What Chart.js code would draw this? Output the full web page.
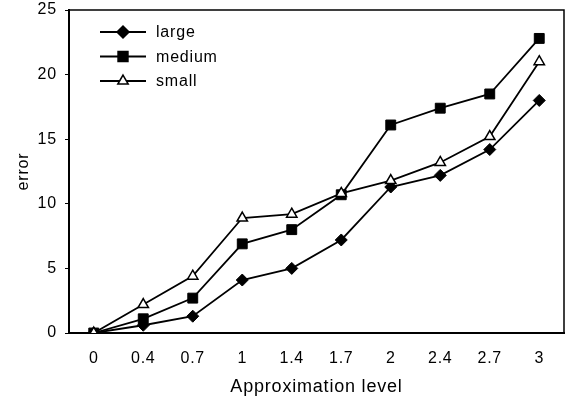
<!DOCTYPE html>
<html>
<head>
<meta charset="utf-8">
<style>
  html, body { margin: 0; padding: 0; background: #fff; }
  #wrap { position: relative; width: 572px; height: 403px; }
</style>
</head>
<body>
<div id="wrap">
  <canvas id="myChart"></canvas>
</div>

<script src="https://cdn.jsdelivr.net/npm/chart.js"></script>

<script>
const levels = ["0", "0.4", "0.7", "1", "1.4", "1.7", "2", "2.4", "2.7", "3"];
const large  = [0, 0.6, 1.3, 4.1, 5.0, 7.2, 11.3, 12.2, 14.2, 18.0];
const medium = [0, 1.1, 2.7, 6.9, 8.0, 10.7, 16.1, 17.4, 18.5, 22.8];
const small  = [0, 2.2, 4.4, 8.9, 9.2, 10.8, 11.8, 13.2, 15.2, 21.0];
const yTicks = [0, 5, 10, 15, 20, 25];

const FONT = "'Liberation Sans', Arial, sans-serif";
const SPACING = "0.8px";

// wider letter spacing on every text the chart draws
const spacing = {
  id: 'spacing',
  beforeUpdate(chart) { chart.ctx.letterSpacing = SPACING; },
  beforeLayout(chart) { chart.ctx.letterSpacing = SPACING; },
  beforeDraw(chart) { chart.ctx.letterSpacing = SPACING; }
};

// top and right edges of the plot box
const frame = {
  id: 'frame',
  afterDraw(chart) {
    const {ctx, chartArea: a} = chart;
    ctx.save();
    ctx.strokeStyle = '#000';
    ctx.lineWidth = 1.5;
    ctx.beginPath();
    ctx.moveTo(a.left, a.top);
    ctx.lineTo(a.right, a.top);
    ctx.lineTo(a.right, a.bottom);
    ctx.stroke();
    ctx.restore();
  }
};

// legend inside the plot, line with marker then name
const innerLegend = {
  id: 'innerLegend',
  afterDraw(chart) {
    const ctx = chart.ctx;
    const x0 = 100, x1 = 146, tx = 156;
    let y = 32;
    ctx.save();
    ctx.letterSpacing = SPACING;
    ctx.font = '16px ' + FONT;
    ctx.textBaseline = 'middle';
    ctx.textAlign = 'left';
    chart.data.datasets.forEach(ds => {
      ctx.strokeStyle = '#000';
      ctx.lineWidth = 2;
      ctx.beginPath();
      ctx.moveTo(x0, y);
      ctx.lineTo(x1, y);
      ctx.stroke();
      ctx.fillStyle = ds.pointBackgroundColor;
      ctx.strokeStyle = '#000';
      ctx.lineWidth = 1.5;
      Chart.helpers.drawPoint(ctx, {
        pointStyle: ds.pointStyle, radius: ds.pointRadius, rotation: 0, borderWidth: 1.5
      }, (x0 + x1) / 2, y);
      ctx.fillStyle = '#000';
      ctx.fillText(ds.label, tx, y + 1);
      y += 24.5;
    });
    ctx.restore();
  }
};

const ctx = document.getElementById('myChart');
new Chart(ctx, {
  type: 'line',
  data: {
    labels: levels,
    datasets: [
      {
        label: 'large', data: large, order: 2,
        borderColor: '#000', borderWidth: 1.8,
        pointStyle: 'rectRot', pointRadius: 6,
        pointBackgroundColor: '#000', pointBorderColor: '#000', pointBorderWidth: 1
      },
      {
        label: 'medium', data: medium, order: 1,
        borderColor: '#000', borderWidth: 1.8,
        pointStyle: 'rect', pointRadius: 7,
        pointBackgroundColor: '#000', pointBorderColor: '#000', pointBorderWidth: 1
      },
      {
        label: 'small', data: small, order: 0,
        borderColor: '#000', borderWidth: 1.8,
        pointStyle: 'triangle', pointRadius: 6,
        pointBackgroundColor: '#fff', pointBorderColor: '#000', pointBorderWidth: 1.5
      }
    ]
  },
  options: {
    responsive: true,
    maintainAspectRatio: false,
    animation: false,
    layout: { padding: { left: 0, right: 2, top: 10, bottom: 2 } },
    plugins: {
      legend: { display: false },
      tooltip: { enabled: false }
    },
    scales: {
      x: {
        offset: true,
        afterFit(scale) { scale.height = 68; },
        grid: { display: false },
        border: { display: true, color: '#000', width: 2 },
        ticks: { color: '#000', padding: 8, font: { family: FONT, size: 16 } },
        title: {
          display: true, text: 'Approximation level', color: '#000',
          font: { family: FONT, size: 18 }, padding: { top: 11, bottom: 3 }
        }
      },
      y: {
        min: 0, max: 25,
        afterBuildTicks(scale) { scale.ticks = yTicks.map(v => ({ value: v })); },
        afterFit(scale) {
          scale.width = 69;
          scale.paddingTop = 0;
          scale.paddingBottom = 0;
        },
        grid: { drawOnChartArea: false, drawTicks: true, tickLength: 4, color: '#000', lineWidth: 1 },
        border: { display: true, color: '#000', width: 2 },
        ticks: { color: '#000', padding: 8, font: { family: FONT, size: 16 } },
        title: {
          display: true, text: 'error', color: '#000',
          font: { family: FONT, size: 16 }, padding: { top: 14, bottom: 0 }
        }
      }
    }
  },
  plugins: [spacing, frame, innerLegend]
});
</script>
</body>
</html>
